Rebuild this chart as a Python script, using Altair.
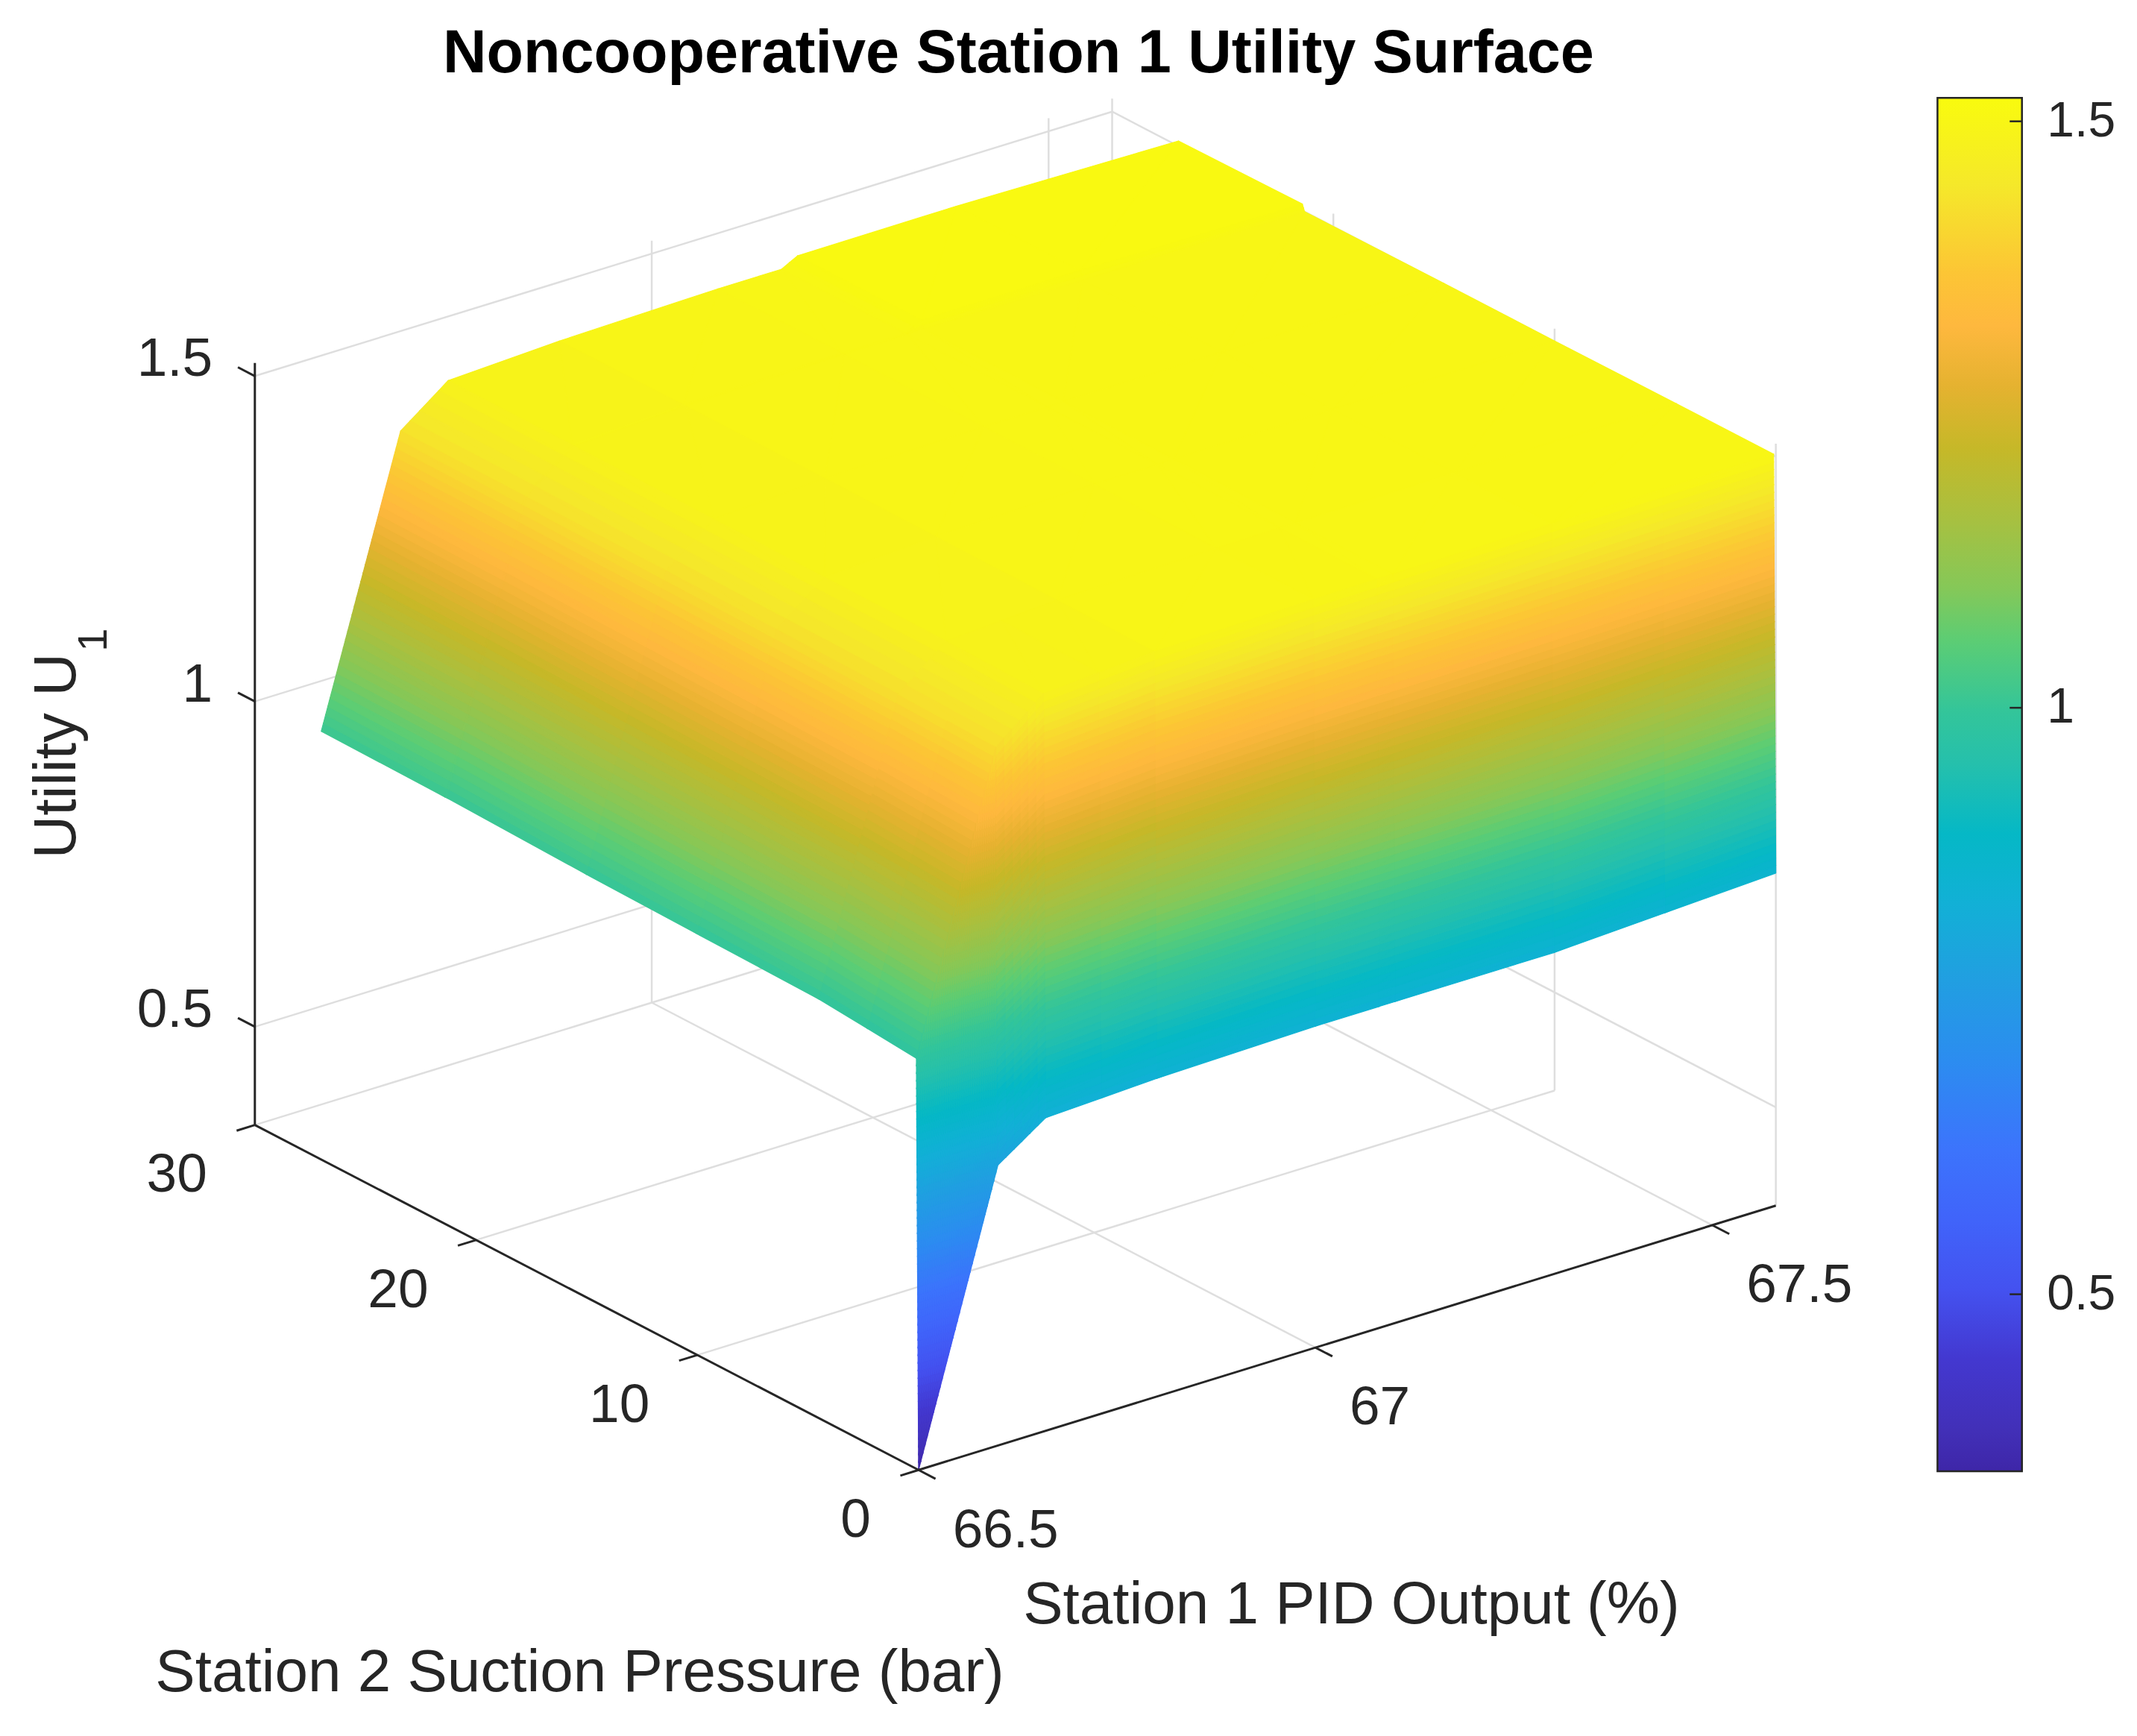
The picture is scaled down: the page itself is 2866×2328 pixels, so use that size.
import math

import altair as alt
import pandas as pd

# ---- values --------------------------------------------------------------
pid_output = [66.5, 66.6, 66.66, 66.8, 67.0, 67.08, 67.1, 67.3, 67.58]      # Station 1 PID output (%)
suction_pressure = [0, 0.1, 4.5, 10, 15, 21.3, 21.4, 27]                    # Station 2 suction pressure (bar)
utility_u1 = [                                                              # one row per pressure
    [0.349, 0.780, 0.830, 0.838, 0.843, 0.843, 0.843, 0.843, 0.860],
    [0.980, 1.420, 1.480, 1.492, 1.497, 1.498, 1.498, 1.500, 1.502],
    [0.993, 1.424, 1.483, 1.493, 1.498, 1.499, 1.499, 1.501, 1.502],
    [0.996, 1.426, 1.484, 1.494, 1.499, 1.499, 1.500, 1.501, 1.501],
    [0.999, 1.428, 1.485, 1.495, 1.499, 1.499, 1.500, 1.501, 1.501],
    [1.005, 1.430, 1.486, 1.495, 1.499, 1.499, 1.500, 1.500, 1.500],
    [1.005, 1.430, 1.486, 1.495, 1.499, 1.499, 1.512, 1.513, 1.510],
    [1.007, 1.431, 1.486, 1.494, 1.499, 1.499, 1.512, 1.513, 1.508],
]
pid_ticks = [66.5, 67, 67.5]
pressure_ticks = [0, 10, 20, 30]
utility_ticks = [0.5, 1, 1.5]

pid_lim = (66.5, 67.58)
pressure_lim = (0, 30)
utility_lim = (0.349, 1.52)

# parula colormap (fraction, colour)
parula_pos = [0, 0.031, 0.082, 0.133, 0.184, 0.235, 0.298, 0.362, 0.413, 0.464, 0.515,
              0.553, 0.605, 0.643, 0.694, 0.745, 0.79, 0.834, 0.872, 0.936, 1]
parula_hex = ["#3e26a8", "#4230b8", "#4338d0", "#4452f0", "#4064fa", "#3c74fc", "#2c8cf0",
              "#20a0e0", "#12b0d6", "#05b8c6", "#25c0ac", "#33c59a", "#5ccd74", "#85c858",
              "#a8c040", "#c6b828", "#e5b230", "#feb83e", "#fcc535", "#f5e82a", "#f9fb0e"]

# ---- view (figure units, 1568 wide) ---------------------------------------
S = 2866 / 1568
W, H = 2850, 2312
ORIGIN = (674.0, 1078.5)
X_VEC = (629.0, -194.0)
P_VEC = (-487.0, -253.1)
Z_PX = 477.4
TICK = 14.0
FONT = "Liberation Sans, Arial, Helvetica, sans-serif"
INK = "#262626"
zmin, zmax = utility_lim
xmin, xmax = pid_lim


def norm(x, p, z):
    return ((x - xmin) / (xmax - xmin),
            (p - pressure_lim[0]) / (pressure_lim[1] - pressure_lim[0]),
            (z - zmin) / (zmax - zmin))


def project(x, p, z):
    u, v, _ = norm(x, p, z)
    return (ORIGIN[0] + u * X_VEC[0] + v * P_VEC[0],
            ORIGIN[1] + u * X_VEC[1] + v * P_VEC[1] - (z - zmin) * Z_PX)


def depth(x, p, z):
    u, v, w = norm(x, p, z)
    return 0.354 * u + 0.460 * v - 0.194 * w


# ---- surface: grid cells split for interpolated shading -------------------
STEP = 0.012
quads = []
for j in range(len(suction_pressure) - 1):
    for i in range(len(pid_output) - 1):
        x0, x1 = pid_output[i], pid_output[i + 1]
        p0, p1 = suction_pressure[j], suction_pressure[j + 1]
        z00, z10 = utility_u1[j][i], utility_u1[j][i + 1]
        z01, z11 = utility_u1[j + 1][i], utility_u1[j + 1][i + 1]
        nu = min(40, max(1, math.ceil(max(abs(z10 - z00), abs(z11 - z01)) / STEP)))
        nv = min(60, max(1, math.ceil(max(abs(z01 - z00), abs(z11 - z10)) / STEP)))

        def corner(s, t):
            z = z00 * (1 - s) * (1 - t) + z10 * s * (1 - t) + z01 * (1 - s) * t + z11 * s * t
            return (x0 + (x1 - x0) * s, p0 + (p1 - p0) * t, z)

        for a in range(nu):
            for b in range(nv):
                quads.append((corner(a / nu, b / nv), corner((a + 1) / nu, b / nv),
                              corner((a + 1) / nu, (b + 1) / nv), corner(a / nu, (b + 1) / nv)))


def mean(q):
    return tuple(sum(c[k] for c in q) / len(q) for k in range(3))


quads.sort(key=lambda q: -depth(*mean(q)))

rows = []
tid = 0
for q in quads:
    val = mean(q)[2]
    for tri in ((q[0], q[1], q[2]), (q[0], q[2], q[3])):
        pts = [project(*c) for c in tri]
        xs = sorted(px for px, _ in pts)
        uniq = [xs[0]]
        for xv in xs[1:]:
            if xv - uniq[-1] > 1e-9:
                uniq.append(xv)
        for xv in uniq:
            ys = []
            for k in range(3):
                (ax, ay), (bx, by) = pts[k], pts[(k + 1) % 3]
                if xv < min(ax, bx) - 1e-9 or xv > max(ax, bx) + 1e-9:
                    continue
                if abs(bx - ax) < 1e-9:
                    ys += [ay, by]
                else:
                    ys.append(ay + (by - ay) * (xv - ax) / (bx - ax))
            rows.append({"tri": tid, "sx": round(xv, 3), "top": round(min(ys), 3),
                         "bot": round(max(ys), 3), "u1": round(val, 4)})
        tid += 1
surface_df = pd.DataFrame(rows)

# ---- grid lines, axes, ticks ----------------------------------------------
def seg(a, b):
    (x1, y1), (x2, y2) = project(*a), project(*b)
    return {"x": x1, "y": y1, "x2": x2, "y2": y2}


grid = []
for xt in pid_ticks[1:]:
    grid.append(seg((xt, 0, zmin), (xt, 30, zmin)))
    grid.append(seg((xt, 30, zmin), (xt, 30, zmax)))
for pt in pressure_ticks[1:]:
    grid.append(seg((xmin, pt, zmin), (xmax, pt, zmin)))
for pt in pressure_ticks:
    grid.append(seg((xmax, pt, zmin), (xmax, pt, zmax)))
for zt in utility_ticks:
    grid.append(seg((xmin, 30, zt), (xmax, 30, zt)))
    grid.append(seg((xmax, 0, zt), (xmax, 30, zt)))
grid_df = pd.DataFrame(grid)

axes = [seg((xmin, 0, zmin), (xmax, 0, zmin)),
        seg((xmin, 0, zmin), (xmin, 30, zmin)),
        seg((xmin, 30, zmin), (xmin, 30, zmax))]


def unit(v):
    n = math.hypot(*v)
    return (v[0] / n, v[1] / n)


up, ux = unit(P_VEC), unit(X_VEC)
xt_lab, pt_lab, zt_lab = [], [], []
for xt in pid_ticks:
    sx, sy = project(xt, 0, zmin)
    axes.append({"x": sx, "y": sy, "x2": sx - up[0] * TICK, "y2": sy - up[1] * TICK})
    xt_lab.append({"x": sx + 25, "y": sy + 44.5, "text": f"{xt:g}"})
for pt in pressure_ticks:
    sx, sy = project(xmin, pt, zmin)
    axes.append({"x": sx, "y": sy, "x2": sx - ux[0] * TICK, "y2": sy - ux[1] * TICK})
    pt_lab.append({"x": sx - 35, "y": sy + 37, "text": f"{pt:g}"})
for zt in utility_ticks:
    sx, sy = project(xmin, 30, zt)
    axes.append({"x": sx, "y": sy, "x2": sx + up[0] * TICK, "y2": sy + up[1] * TICK})
    zt_lab.append({"x": sx - 31, "y": sy - 12, "text": f"{zt:g}"})
axes_df = pd.DataFrame(axes)

# ---- colorbar -------------------------------------------------------------
CB_L, CB_R, CB_T, CB_B = 1421.6, 1483.6, 71.8, 1079.5


def cb_y(v):
    return CB_T + (zmax - v) / (zmax - zmin) * (CB_B - CB_T)


cb_box = pd.DataFrame([{"x": CB_L, "x2": CB_R, "y": cb_y(zmax), "y2": cb_y(zmin)}])
cb_ticks = pd.DataFrame([{"x": CB_R - 9, "y": cb_y(v), "x2": CB_R, "y2": cb_y(v)}
                         for v in utility_ticks])
cb_lab = [{"x": CB_R + 18.4, "y": cb_y(v), "text": f"{v:g}"} for v in utility_ticks]
parula_fill = alt.LinearGradient(
    gradient="linear", x1=0, x2=0, y1=1, y2=0,
    stops=[alt.GradientStop(offset=f, color=c) for f, c in zip(parula_pos, parula_hex)])

# ---- chart ----------------------------------------------------------------
x_scale = alt.Scale(domain=[8 / S, (W + 8) / S], nice=False, zero=False)
y_scale = alt.Scale(domain=[8 / S, (H + 8) / S], nice=False, zero=False, reverse=True)
stops = [zmin + f * (zmax - zmin) for f in parula_pos]
color_scale = alt.Scale(domain=stops, range=parula_hex, interpolate="rgb")
X = alt.X("x:Q", scale=x_scale, axis=None)
Y = alt.Y("y:Q", scale=y_scale, axis=None)


def rules(df, color, width):
    return alt.Chart(df).mark_rule(color=color, strokeWidth=width).encode(
        x=X, y=Y, x2="x2:Q", y2="y2:Q")


def texts(items, size, align, baseline="middle", color=INK, **kw):
    return alt.Chart(pd.DataFrame(items)).mark_text(
        align=align, baseline=baseline, fontSize=size, font=FONT, color=color, **kw
    ).encode(x=X, y=Y, text="text:N")


surface = alt.Chart(surface_df).mark_area(strokeWidth=1.2, strokeJoin="round").encode(
    x=alt.X("sx:Q", scale=x_scale, axis=None),
    y=alt.Y("top:Q", scale=y_scale, axis=None, stack=None),
    y2="bot:Q",
    detail="tri:N",
    fill=alt.Fill("u1:Q", scale=color_scale, legend=None),
    stroke=alt.Stroke("u1:Q", scale=color_scale, legend=None),
)

colorbar = alt.Chart(cb_box).mark_rect(fill=parula_fill, stroke=INK, strokeWidth=2.5).encode(
    x=X, x2="x2:Q", y=Y, y2="y2:Q")

chart = alt.layer(
    rules(grid_df, "#dedede", 2.5),
    surface,
    rules(axes_df, INK, 3),
    colorbar,
    rules(cb_ticks, INK, 2.5),
    texts(cb_lab, 66, "left"),
    texts(xt_lab, 73, "left"),
    texts(pt_lab, 73, "right"),
    texts(zt_lab, 73, "right"),
    texts([{"x": 750.7, "y": 1191, "text": "Station 1 PID Output (%)"}], 80, "left", "alphabetic"),
    texts([{"x": 114, "y": 1241, "text": "Station 2 Suction Pressure (bar)"}], 80, "left", "alphabetic"),
    texts([{"x": 55, "y": 630, "text": "Utility U"}], 80, "left", "alphabetic", angle=270),
    texts([{"x": 78, "y": 478, "text": "1"}], 56, "left", "alphabetic", angle=270),
    texts([{"x": 747.3, "y": 53, "text": "Noncooperative Station 1 Utility Surface"}],
          81, "center", "alphabetic", color="#000000", fontWeight="bold"),
).properties(
    width=W, height=H, autosize=alt.AutoSizeParams(type="none"), padding=0
).configure_view(stroke=None)

chart.save("out.html", embed_options={"renderer": "svg", "actions": False})
